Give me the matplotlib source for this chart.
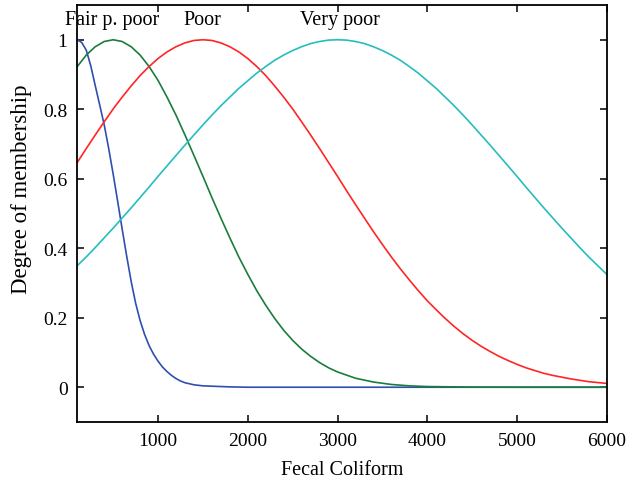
import matplotlib
matplotlib.use("Agg")
import matplotlib.pyplot as plt

# Membership curves
blue_x = [100, 150, 200, 250, 300, 350, 400, 450, 500, 550, 600, 650, 700, 750,
          800, 850, 900, 950, 1000, 1050, 1100, 1150, 1200, 1250, 1300, 1400, 1500,
          1600, 1800, 2000, 3000, 4000, 5000, 6000]
blue_y = [1.0, 0.992, 0.97, 0.925, 0.868, 0.812, 0.755, 0.687, 0.613, 0.535, 0.455,
          0.378, 0.305, 0.242, 0.192, 0.152, 0.12, 0.095, 0.075, 0.058, 0.045, 0.034,
          0.025, 0.018, 0.013, 0.007, 0.004, 0.003, 0.001, 0.0, 0.0, 0.0, 0.0, 0.0]

green_x = [100, 200, 300, 400, 500, 600, 700, 800, 900, 1000, 1100, 1200, 1300,
           1400, 1500, 1600, 1700, 1800, 1900, 2000, 2100, 2200, 2300, 2400, 2500,
           2600, 2700, 2800, 2900, 3000, 3200, 3400, 3600, 3800, 4000, 4500, 5000,
           6000]
green_y = [0.923, 0.956, 0.980, 0.995, 1.0, 0.995, 0.980, 0.956, 0.923, 0.883,
           0.835, 0.783, 0.726, 0.667, 0.607, 0.546, 0.487, 0.430, 0.375, 0.325,
           0.278, 0.236, 0.198, 0.164, 0.135, 0.110, 0.089, 0.071, 0.056, 0.044,
           0.026, 0.015, 0.008, 0.004, 0.002, 0.0003, 0.0, 0.0]

red_x = [100, 200, 300, 400, 500, 600, 700, 800, 900, 1000, 1100, 1200, 1300, 1400,
         1500, 1600, 1700, 1800, 1900, 2000, 2100, 2200, 2300, 2400, 2500, 2600,
         2700, 2800, 2900, 3000, 3100, 3200, 3300, 3400, 3500, 3600, 3700, 3800,
         3900, 4000, 4100, 4200, 4300, 4400, 4500, 4600, 4700, 4800, 4900, 5000,
         5100, 5200, 5300, 5400, 5500, 5600, 5700, 5800, 5900, 6000]
red_y = [0.647, 0.687, 0.726, 0.764, 0.801, 0.835, 0.867, 0.897, 0.923, 0.946,
         0.965, 0.980, 0.991, 0.998, 1.0, 0.998, 0.991, 0.980, 0.965, 0.946, 0.923,
         0.897, 0.867, 0.835, 0.801, 0.764, 0.726, 0.687, 0.647, 0.607, 0.566,
         0.526, 0.487, 0.448, 0.411, 0.375, 0.341, 0.309, 0.278, 0.249, 0.223,
         0.198, 0.175, 0.154, 0.135, 0.118, 0.103, 0.089, 0.077, 0.066, 0.056,
         0.048, 0.040, 0.034, 0.029, 0.024, 0.020, 0.016, 0.0135, 0.011]

cyan_x = [100, 200, 300, 400, 500, 600, 700, 800, 900, 1000, 1100, 1200, 1300,
          1400, 1500, 1600, 1700, 1800, 1900, 2000, 2100, 2200, 2300, 2400, 2500,
          2600, 2700, 2800, 2900, 3000, 3100, 3200, 3300, 3400, 3500, 3600, 3700,
          3800, 3900, 4000, 4100, 4200, 4300, 4400, 4500, 4600, 4700, 4800, 4900,
          5000, 5100, 5200, 5300, 5400, 5500, 5600, 5700, 5800, 5900, 6000]
cyan_y = [0.350, 0.375, 0.402, 0.430, 0.458, 0.487, 0.516, 0.546, 0.576, 0.607,
          0.637, 0.667, 0.697, 0.726, 0.755, 0.783, 0.810, 0.835, 0.860, 0.882,
          0.904, 0.923, 0.941, 0.956, 0.969, 0.980, 0.989, 0.995, 0.999, 1.0,
          0.999, 0.995, 0.989, 0.980, 0.969, 0.956, 0.941, 0.923, 0.904, 0.882,
          0.860, 0.835, 0.810, 0.783, 0.755, 0.726, 0.697, 0.667, 0.637, 0.607,
          0.576, 0.546, 0.516, 0.487, 0.458, 0.430, 0.402, 0.375, 0.350, 0.325]

labels = ["Fair p. poor", "Poor", "Very poor"]
label_x = [490, 1490, 3030]

x_ticks = [1000, 2000, 3000, 4000, 5000, 6000]
y_ticks = [0, 0.2, 0.4, 0.6, 0.8, 1]
y_ticklabels = ["0", "0.2", "0.4", "0.6", "0.8", "1"]

plt.rcParams["font.family"] = ["Liberation Serif", "DejaVu Serif"]

fig = plt.figure(figsize=(6.42, 4.89), dpi=100)
ax = fig.add_axes([0.1204, 0.135, 0.8246, 0.8527])

lw = 1.2
ax.plot(blue_x, blue_y, color="#2f4fb0", lw=lw)
ax.plot(green_x, green_y, color="#1a7d3c", lw=lw)
ax.plot(red_x, red_y, color="#ff2525", lw=lw)
ax.plot(cyan_x, cyan_y, color="#25bdbd", lw=lw)

for name, xv in zip(labels, label_x):
    ax.text(xv, 1.057, name, ha="center", va="center", fontsize=14.5, clip_on=False)

ax.set_xlim(100, 6000)
ax.set_ylim(-0.1, 1.1)
ax.set_xticks(x_ticks)
ax.set_yticks(y_ticks)
ax.set_yticklabels(y_ticklabels)
ax.tick_params(direction="in", top=True, right=True, length=5, width=1.1,
               labelsize=14, pad=7)
for s in ax.spines.values():
    s.set_linewidth(1.3)

ax.set_xlabel("Fecal Coliform", fontsize=14.5, labelpad=8)
ax.set_ylabel("Degree of membership", fontsize=16.5)
ax.yaxis.set_label_coords(-0.085, 0.56)

fig.savefig("out.png", dpi=100)
